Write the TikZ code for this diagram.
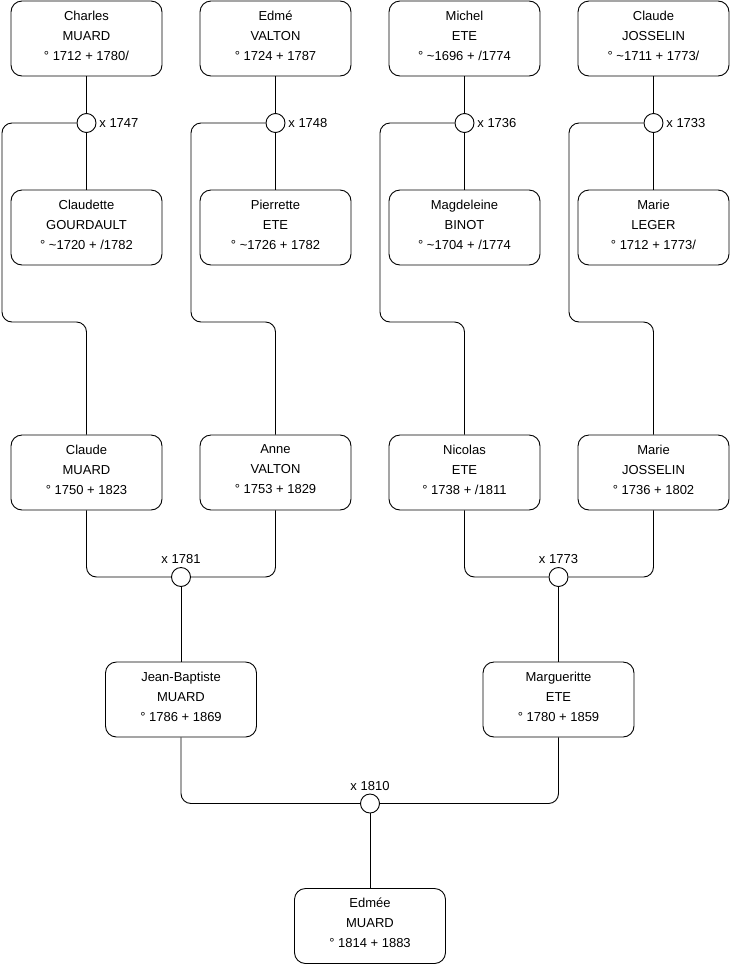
\documentclass[tikz,border=0pt]{standalone}
\usepackage{fontspec}
\setmainfont{Liberation Sans}
\usetikzlibrary{positioning}

\tikzset{
  person/.style={draw,rounded corners=11pt,minimum width=151pt,minimum height=75pt,
    align=center,text depth=6pt,font=\fontsize{13}{20}\selectfont},
  wed/.style={draw,circle,fill=white,minimum size=19pt,inner sep=0pt},
  year/.style={font=\fontsize{13}{15}\selectfont,inner sep=2.5pt},
  link/.style={rounded corners=10pt}
}

\begin{document}
\begin{tikzpicture}[x=1pt,y=-1pt,line width=0.9pt]
  \useasboundingbox (0,0) rectangle (740,975);
  % four oldest couples and their children
  \foreach \i/\x/\fa/\mo/\yr/\kid in {
    1/86.5/{Charles\\MUARD\\° 1712 + 1780/}/{Claudette\\GOURDAULT\\° \textasciitilde1720 + /1782}/1747/{Claude\\MUARD\\° 1750 + 1823},
    2/275.5/{Edmé\\VALTON\\° 1724 + 1787}/{Pierrette\\ETE\\° \textasciitilde1726 + 1782}/1748/{Anne\\VALTON\\° 1753 + 1829},
    3/464.5/{Michel\\ETE\\° \textasciitilde1696 + /1774}/{Magdeleine\\BINOT\\° \textasciitilde1704 + /1774}/1736/{Nicolas\\ETE\\° 1738 + /1811},
    4/653.5/{Claude\\JOSSELIN\\° \textasciitilde1711 + 1773/}/{Marie\\LEGER\\° 1712 + 1773/}/1733/{Marie\\JOSSELIN\\° 1736 + 1802}} {
    \node[person] (f\i) at (\x,38.5) {\fa};
    \node[wed] (w\i) at (\x,123) {};
    \node[year,right=0pt of w\i] (y\i) {x \yr};
    \node[person] (m\i) at (\x,227.5) {\mo};
    \node[person] (k\i) at (\x,472.5) {\kid};
    \draw (f\i.south) -- (w\i.north);
    \draw (w\i.south) -- (m\i.north);
    \draw[link] (w\i.west) -| (\x-84.5,322) -| (k\i.north);
  }
  % next generation
  \node[wed] (w5) at (181,577) {};
  \node[year,above=0pt of w5] (y5) {x 1781};
  \node[wed] (w6) at (558.5,577) {};
  \node[year,above=0pt of w6] (y6) {x 1773};
  \draw[link] (k1.south) |- (w5.west);
  \draw[link] (k2.south) |- (w5.east);
  \draw[link] (k3.south) |- (w6.west);
  \draw[link] (k4.south) |- (w6.east);
  \node[person] (jb) at (181,699.5) {Jean-Baptiste\\MUARD\\° 1786 + 1869};
  \node[person] (me) at (558.5,699.5) {Margueritte\\ETE\\° 1780 + 1859};
  \draw (w5.south) -- (jb.north);
  \draw (w6.south) -- (me.north);
  % last couple
  \node[wed] (w7) at (370,803.5) {};
  \node[year,above=0pt of w7] (y7) {x 1810};
  \draw[link] (jb.south) |- (w7.west);
  \draw[link] (me.south) |- (w7.east);
  \node[person] (ed) at (370,926) {Edmée\\MUARD\\° 1814 + 1883};
  \draw (w7.south) -- (ed.north);
\end{tikzpicture}
\end{document}
